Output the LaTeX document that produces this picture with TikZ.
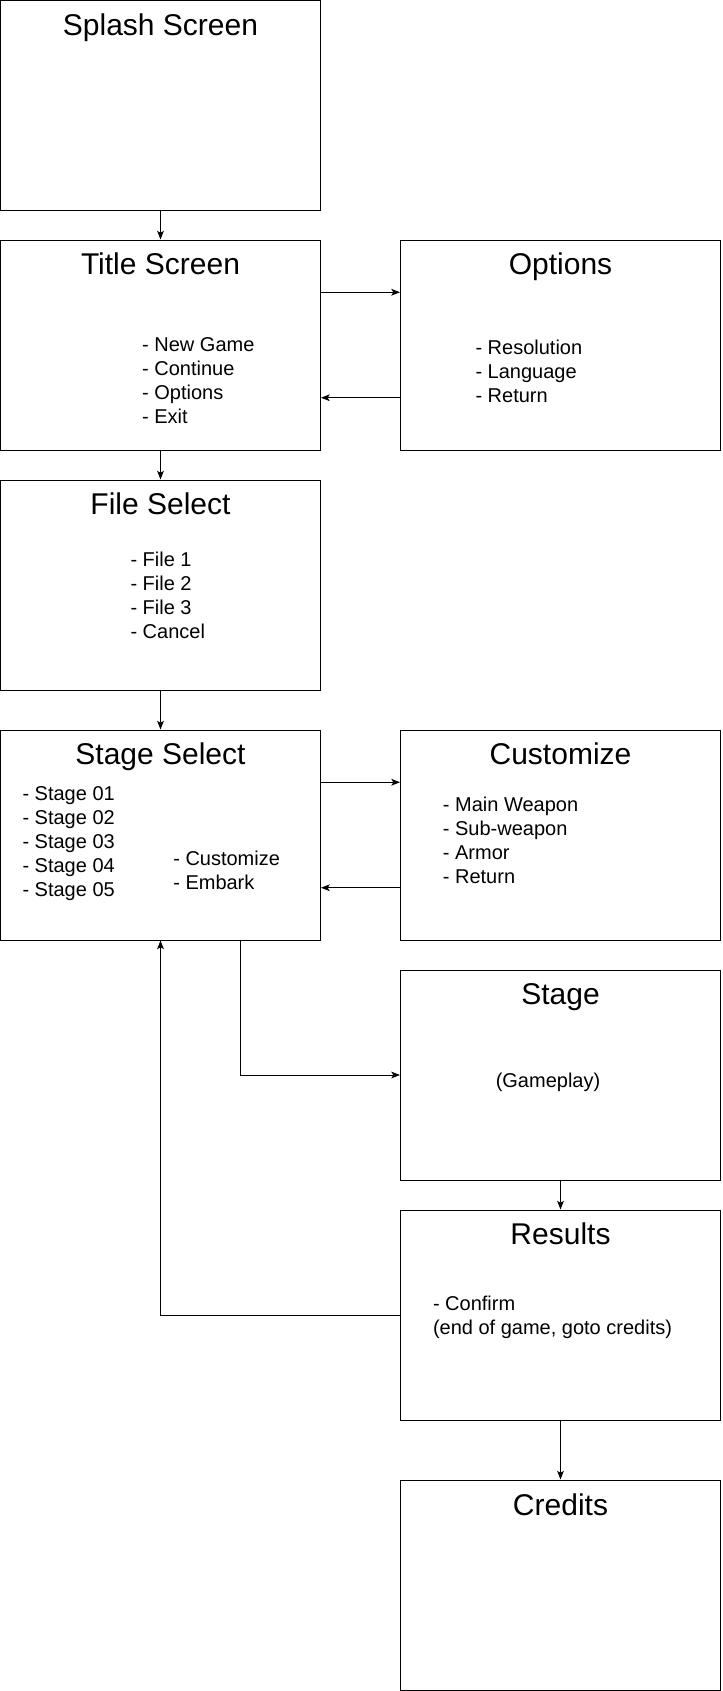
\documentclass[tikz,border=0pt]{standalone}
\usepackage{fontspec}
\setmainfont{Liberation Sans}
\usetikzlibrary{arrows.meta, positioning, calc}

\begin{document}
\begin{tikzpicture}[x=0.75pt, y=-0.75pt, line width=0.75pt,
      screen/.style={rectangle, draw, minimum width=240pt, minimum height=157.5pt, inner sep=0pt},
      heading/.style={font=\fontsize{22.5}{27}\selectfont, anchor=base, inner sep=0pt},
      items/.style={font=\fontsize{15}{18}\selectfont, align=left, anchor=base west, inner sep=0pt},
      link/.style={-{Stealth[length=6.5pt, width=5pt, inset=1.5pt]}}]

      \useasboundingbox (0,0) rectangle (722,1691);

      % screens
      \node[screen] (splash) at (160.5,105.5) {};
      \node[screen] (title) at (160.5,345) {};
      \node[screen] (options) at (560.5,345) {};
      \node[screen] (files) at (160.5,585) {};
      \node[screen] (stagesel) at (160.5,835) {};
      \node[screen] (custom) at (560.5,835) {};
      \node[screen] (stage) at (560.5,1075) {};
      \node[screen] (results) at (560.5,1315) {};
      \node[screen] (credits) at (560.5,1585) {};

      % headings
      \node[heading] (splashhead) at ($(splash.north)+(0,35.5)$) {Splash Screen};
      \node[heading] (titlehead) at ($(title.north)+(0,35)$) {Title Screen};
      \node[heading] (optionshead) at ($(options.north)+(0,35)$) {Options};
      \node[heading] (fileshead) at ($(files.north)+(0,35)$) {File Select};
      \node[heading] (stagesehead) at ($(stagesel.north)+(0,35)$) {Stage Select};
      \node[heading] (customhead) at ($(custom.north)+(0,35)$) {Customize};
      \node[heading] (stagehead) at ($(stage.north)+(0,35)$) {Stage};
      \node[heading] (resultshead) at ($(results.north)+(0,35)$) {Results};
      \node[heading] (creditshead) at ($(credits.north)+(0,35.5)$) {Credits};

      % menu entries (placed at the baseline of their last line)
      \node[items] (titlemenu) at (141.7,423.7) {- New Game\\- Continue\\- Options\\- Exit};
      \node[items] (optionsmenu) at (475,402.3) {- Resolution\\- Language\\- Return};
      \node[items] (filesmenu) at (130,638.7) {- File 1\\- File 2\\- File 3\\- Cancel};
      \node[items] (stagelist) at (22,896) {- Stage 01\\- Stage 02\\- Stage 03\\- Stage 04\\- Stage 05};
      \node[items] (stagesmenu) at (172.8,889.7) {- Customize\\- Embark};
      \node[items] (custommenu) at (442.4,883.7) {- Main Weapon\\- Sub-weapon\\- Armor\\- Return};
      \node[items, anchor=base] (gameplay) at (548,1087) {(Gameplay)};
      \node[items] (resultsmenu) at (432.5,1334.7) {- Confirm\\(end of game, goto credits)};

      % Arrows
      \draw[link] (splash.south) -- (title.north);
      \draw[link] ($(title.north east)!0.25!(title.south east)$) -- ($(options.north west)!0.25!(options.south west)$);
      \draw[link] ($(options.north west)!0.75!(options.south west)$) -- ($(title.north east)!0.75!(title.south east)$);
      \draw[link] (title.south) -- (files.north);
      \draw[link] (files.south) -- (stagesel.north);
      \draw[link] ($(stagesel.north east)!0.25!(stagesel.south east)$) -- ($(custom.north west)!0.25!(custom.south west)$);
      \draw[link] ($(custom.north west)!0.75!(custom.south west)$) -- ($(stagesel.north east)!0.75!(stagesel.south east)$);
      \draw[link] ($(stagesel.south west)!0.75!(stagesel.south east)$) |- (stage.west);
      \draw[link] (stage.south) -- (results.north);
      \draw[link] (results.west) -| (stagesel.south);
      \draw[link] (results.south) -- (credits.north);
\end{tikzpicture}
\end{document}
